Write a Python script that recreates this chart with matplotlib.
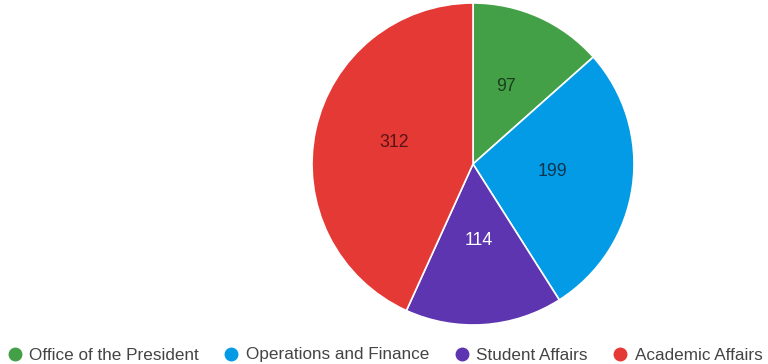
import matplotlib
matplotlib.use("Agg")
import matplotlib.pyplot as plt
from matplotlib.lines import Line2D

plt.rcParams["font.family"] = ["Liberation Sans", "DejaVu Sans"]

# Headcount by division
divisions = ["Office of the President", "Operations and Finance",
             "Student Affairs", "Academic Affairs"]
counts = [97, 199, 114, 312]
colors = ["#43a047", "#039be5", "#5e35b1", "#e53935"]
label_colors = ["#1b3d1c", "#0c3550", "#ffffff", "#5a1414"]

W, H = 768, 364
fig = plt.figure(figsize=(W / 100, H / 100), dpi=100)

# Pie placed by pixel centre and radius
cx, cy, r = 473, 164, 161
ax = fig.add_axes([(cx - r) / W, (H - cy - r) / H, 2 * r / W, 2 * r / H])
wedges, texts = ax.pie(
    counts,
    colors=colors,
    startangle=90,
    counterclock=False,
    labels=[str(c) for c in counts],
    labeldistance=0.5,
    wedgeprops=dict(edgecolor="white", linewidth=1.2),
    textprops=dict(fontsize=12.8),
)
for t, c in zip(texts, label_colors):
    x, y = t.get_position()
    t.set_position((x, y + 0.025))
    t.set_color(c)
    t.set_ha("center")
    t.set_va("center")
ax.set_xlim(-1, 1)
ax.set_ylim(-1, 1)
ax.set_aspect("equal")

handles = [
    Line2D([], [], marker="o", linestyle="none", markersize=9,
           markerfacecolor=c, markeredgecolor=c)
    for c in colors
]
fig.legend(
    handles, divisions,
    loc="center", bbox_to_anchor=(386 / W, 1 - 355 / H),
    ncol=4, frameon=False, fontsize=12.3,
    handletextpad=0.55, columnspacing=1.6, handlelength=0.6,
    labelcolor="#444444", borderpad=0.2,
)

fig.savefig("out.png", dpi=100, facecolor="white")
